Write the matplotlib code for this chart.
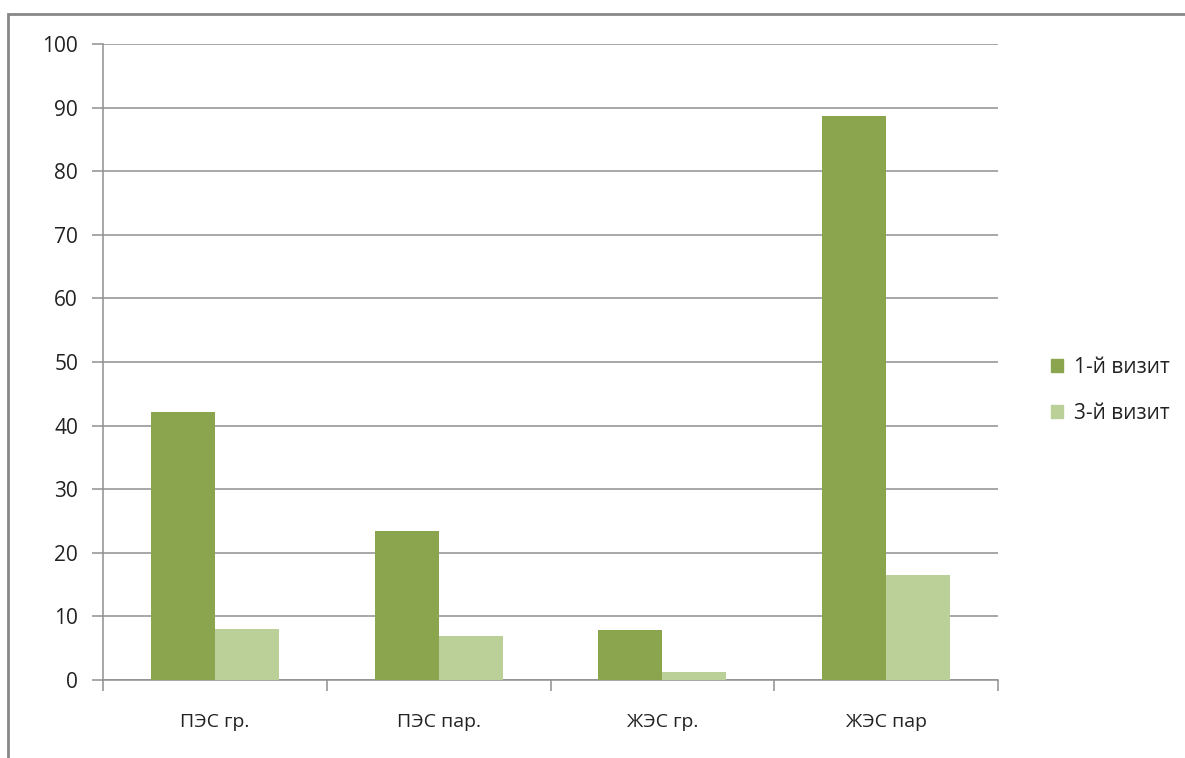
import numpy as np
import matplotlib.pyplot as plt
from matplotlib.patches import Rectangle, Patch

plt.rcParams['font.family'] = ['Open Sans', 'DejaVu Sans']

categories = ['ПЭС гр.', 'ПЭС пар.', 'ЖЭС гр.', 'ЖЭС пар']
visit1 = [42.2, 23.4, 7.9, 88.7]
visit3 = [8.0, 6.9, 1.3, 16.5]
series_names = ['1-й визит', '3-й визит']
colors = ['#8aa54e', '#bbcf99']

W, H = 1185, 758
fig = plt.figure(figsize=(W / 100, H / 100), dpi=100)

# outer chart frame (top and left edges visible)
fig.patches.append(Rectangle((8 / W, -0.1), 1.2, 1 - 14 / H + 0.1,
                             transform=fig.transFigure, fill=False,
                             edgecolor='#888888', linewidth=2))

ax = fig.add_axes([103 / W, 1 - 680 / H, (998 - 103) / W, (680 - 44) / H])

x = np.arange(len(categories))
bw = 1 / 3.5
ax.bar(x - bw / 2, visit1, bw, color=colors[0], zorder=3)
ax.bar(x + bw / 2, visit3, bw, color=colors[1], zorder=3)

ax.set_xlim(-0.5, len(categories) - 0.5)
ax.set_ylim(0, 100)
ax.set_yticks(np.arange(0, 101, 10))
ax.yaxis.grid(True, color='#909090', linewidth=1.1, zorder=0)
ax.set_xticks(x)
ax.set_xticklabels(categories)
ax.set_xticks(np.arange(-0.5, len(categories)), minor=True)

for s in ['top', 'right']:
    ax.spines[s].set_visible(False)
for s in ['left', 'bottom']:
    ax.spines[s].set_color('#909090')
    ax.spines[s].set_linewidth(1.1)

ax.tick_params(axis='y', length=8, width=1.1, color='#909090',
               labelsize=15, pad=10, labelcolor='#222222')
ax.tick_params(axis='x', which='major', length=0, pad=24,
               labelsize=14, labelcolor='#222222')
ax.tick_params(axis='x', which='minor', length=8, width=1.1, color='#909090')

handles = [Patch(color=c, label=n) for c, n in zip(colors, series_names)]
fig.legend(handles=handles, loc='center left',
           bbox_to_anchor=(1032 / W, 1 - 390 / H), frameon=False,
           fontsize=15, handlelength=0.6, handleheight=0.6,
           handletextpad=0.5, labelspacing=1.2, labelcolor='#222222')

fig.savefig('out.png', dpi=100)
